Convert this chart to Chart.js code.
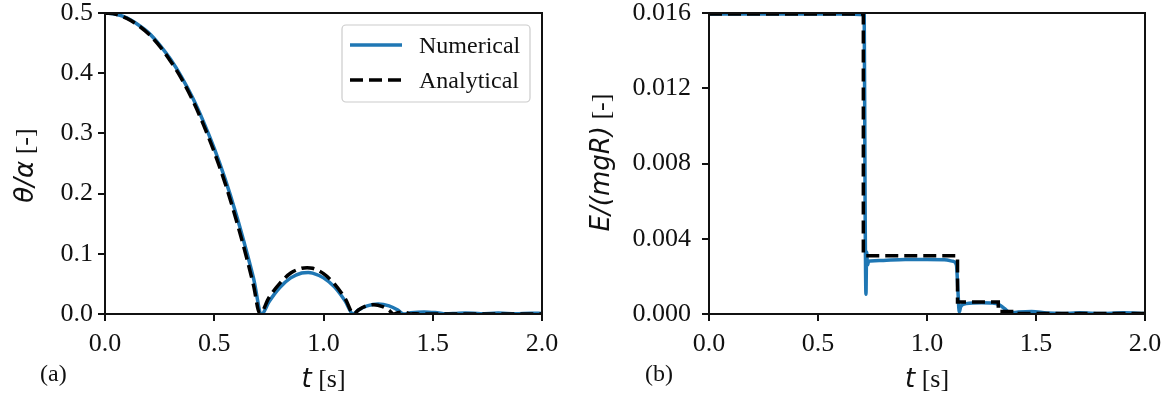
<!DOCTYPE html>
<html><head><meta charset="utf-8">
<script src="https://cdn.jsdelivr.net/npm/chart.js@4.4.0/dist/chart.umd.min.js"></script>
<style>
html,body{margin:0;padding:0;background:#fff;}
#wrap{position:relative;width:1172px;height:403px;overflow:hidden;}
canvas{position:absolute;top:0;}
</style></head><body>
<div id="wrap">
<canvas id="c1" width="586" height="403" style="left:0;width:586px;height:403px"></canvas>
<canvas id="c2" width="586" height="403" style="left:586px;width:586px;height:403px"></canvas>
</div>
<script>
// ---------- data ----------
const seriesLabels = ['Numerical', 'Analytical'];
const xTicks = [0, 0.5, 1.0, 1.5, 2.0];
const thetaTicks = [0, 0.1, 0.2, 0.3, 0.4, 0.5];
const energyTicks = [0, 0.004, 0.008, 0.012, 0.016];

const thetaAnaT = [0,0.05,0.1,0.15,0.2,0.25,0.3,0.35,0.4,0.45,0.5,0.55,0.6,0.65,0.68,0.709,
  0.75,0.8,0.85,0.9,0.925,0.95,1.0,1.05,1.1,1.138,
  1.16,1.19,1.23,1.27,1.3,1.32,
  1.34,1.36,1.38,1.40,1.418,1.435,1.6,1.8,2.0];
const thetaAnaV = [0.5,0.498,0.491,0.48,0.465,0.445,0.42,0.391,0.356,0.315,0.269,0.217,0.157,0.091,0.047,0,
  0.027,0.051,0.068,0.076,0.077,0.076,0.067,0.05,0.025,0,
  0.0066,0.0127,0.0155,0.0124,0.0061,0,
  0.0022,0.003,0.0022,0,0.0006,0,0,0,0];

const thetaNumT = [0,0.05,0.1,0.15,0.2,0.25,0.3,0.35,0.4,0.45,0.5,0.55,0.6,0.65,0.68,0.717,
  0.75,0.8,0.85,0.9,0.93,0.95,1.0,1.05,1.1,1.135,
  1.16,1.2,1.25,1.3,1.34,1.366,
  1.4,1.46,1.52,1.56,1.6,1.65,1.72,1.8,1.88,1.95,2.0];
const thetaNumV = [0.5,0.498,0.492,0.481,0.467,0.447,0.423,0.394,0.36,0.32,0.275,0.224,0.166,0.101,0.059,0,
  0.02,0.044,0.06,0.068,0.069,0.068,0.06,0.045,0.021,0,
  0.0065,0.0135,0.0166,0.0135,0.0065,0,
  0.002,0.0035,0.002,0.0003,0.0008,0.0018,0.0004,0.0016,0.0004,0.0014,0.0008];

const energyAnaT = [0,0.708,0.708,1.14,1.14,1.327,1.327,1.40,1.40,2.0];
const energyAnaV = [0.01595,0.01595,0.0031,0.0031,0.00064,0.00064,0.00013,0.00013,0.00003,0.00003];

const energyNumT = [0,0.3,0.6,0.712,0.716,0.72,0.723,0.727,0.732,0.74,0.8,0.9,1.0,1.08,1.12,1.135,1.142,1.148,1.155,1.18,1.25,1.3,1.33,1.36,1.38,1.42,1.48,1.55,1.62,1.7,1.8,1.9,2.0];
const energyNumV = [0.01595,0.01595,0.01595,0.0159,0.006,0.00105,0.0033,0.0026,0.0028,0.00282,0.00285,0.0029,0.0029,0.00288,0.0028,0.0026,0.0012,0.0001,0.0004,0.00055,0.0006,0.00058,0.0005,0.00025,0.00005,0.0001,0.00013,0.00005,0.00003,0.00006,0.00003,0.00006,0.00002];

// ---------- styling ----------
const BLUE = '#1f77b4';
const INK = '#111111';
const SERIF = '"Liberation Serif", "Times New Roman", serif';
const SANS = '"DejaVu Sans", sans-serif';
const FS = 26;      // tick & axis label size
const FS_LEG = 24;  // legend & panel tag size

function pts(t, v) { return t.map((x, i) => ({ x: x, y: v[i] })); }

function mixedText(ctx, parts, cx, cy, rot) {
  ctx.save();
  ctx.translate(cx, cy);
  if (rot) ctx.rotate(rot);
  let total = 0;
  const widths = parts.map(p => { ctx.font = p.font; const w = ctx.measureText(p.text).width; total += w; return w; });
  let x = -total / 2;
  ctx.textBaseline = 'alphabetic';
  ctx.textAlign = 'left';
  ctx.fillStyle = INK;
  parts.forEach((p, i) => { ctx.font = p.font; ctx.fillText(p.text, x, 9); x += widths[i]; });
  ctx.restore();
}

function decorPlugin(cfg) {
  return {
    id: 'decor',
    afterDraw(chart) {
      const ctx = chart.ctx;
      const a = chart.chartArea;
      ctx.save();
      ctx.strokeStyle = INK;
      ctx.lineWidth = 2;
      ctx.strokeRect(a.left, a.top, a.right - a.left, a.bottom - a.top);
      ctx.restore();
      // y label
      mixedText(ctx, cfg.yParts, cfg.yLabelX, (a.top + a.bottom) / 2 + cfg.yLabelDy, -Math.PI / 2);
      // x label
      mixedText(ctx, [{ text: 't', font: 'italic ' + FS + 'px ' + SANS }, { text: ' [s]', font: FS + 'px ' + SERIF }],
        (a.left + a.right) / 2, 378, 0);
      // panel tag
      ctx.save();
      ctx.font = FS_LEG + 'px ' + SERIF;
      ctx.fillStyle = INK;
      ctx.textBaseline = 'alphabetic';
      ctx.textAlign = 'left';
      ctx.fillText(cfg.tag, cfg.tagX, 381);
      ctx.restore();
      if (cfg.legend) {
        const L = cfg.legend;
        ctx.save();
        ctx.beginPath();
        ctx.roundRect(L.x, L.y, L.w, L.h, 4);
        ctx.fillStyle = 'rgba(255,255,255,0.8)';
        ctx.fill();
        ctx.strokeStyle = '#cccccc';
        ctx.lineWidth = 1.2;
        ctx.stroke();
        const ds = chart.data.datasets;
        const rows = [ds.find(d => d.label === seriesLabels[0]), ds.find(d => d.label === seriesLabels[1])];
        rows.forEach((d, i) => {
          const y = L.rowY[i];
          ctx.beginPath();
          ctx.setLineDash(d.borderDash || []);
          ctx.strokeStyle = d.borderColor;
          ctx.lineWidth = d.borderWidth;
          ctx.moveTo(L.x + 8, y);
          ctx.lineTo(L.x + 60, y);
          ctx.stroke();
          ctx.setLineDash([]);
          ctx.font = FS_LEG + 'px ' + SERIF;
          ctx.fillStyle = INK;
          ctx.textBaseline = 'alphabetic';
          ctx.fillText(d.label, L.x + 77, y + 8);
        });
        ctx.restore();
      }
    }
  };
}

function makeChart(id, o) {
  return new Chart(document.getElementById(id), {
    type: 'line',
    data: {
      datasets: [
        { label: seriesLabels[0], data: pts(o.numT, o.numV), borderColor: BLUE, borderWidth: 3.5,
          pointRadius: 0, fill: false, order: 2, cubicInterpolationMode: 'monotone' },
        { label: seriesLabels[1], data: pts(o.anaT, o.anaV), borderColor: '#000000', borderWidth: 3.5,
          borderDash: [13, 6], pointRadius: 0, fill: false, order: 1,
          cubicInterpolationMode: o.anaSmooth ? 'monotone' : 'default', tension: 0 }
      ]
    },
    options: {
      responsive: false,
      animation: false,
      events: [],
      layout: { padding: { left: 0, top: 13, right: o.padRight, bottom: 0 } },
      plugins: { legend: { display: false }, tooltip: { enabled: false }, title: { display: false } },
      scales: {
        x: {
          type: 'linear', min: 0, max: 2,
          afterBuildTicks: s => { s.ticks = xTicks.map(v => ({ value: v })); },
          afterFit: s => { s.height = 89; s.paddingLeft = 0; s.paddingRight = 0; },
          grid: { drawOnChartArea: false, drawTicks: true, tickLength: 7, tickWidth: 2, tickColor: INK, lineWidth: 2, color: INK },
          border: { display: false },
          ticks: { color: INK, padding: 10, maxRotation: 0, autoSkip: false,
            font: { family: SERIF, size: FS, lineHeight: 1 },
            callback: v => Number(v).toFixed(1) }
        },
        y: {
          type: 'linear', min: 0, max: o.yMax,
          afterBuildTicks: s => { s.ticks = o.yTicks.map(v => ({ value: v })); },
          afterFit: s => { s.width = o.yWidth; s.paddingTop = 0; s.paddingBottom = 0; },
          grid: { drawOnChartArea: false, drawTicks: true, tickLength: 7, tickWidth: 2, tickColor: INK, lineWidth: 2, color: INK },
          border: { display: false },
          ticks: { color: INK, padding: o.yPad, autoSkip: false,
            font: { family: SERIF, size: FS, lineHeight: 1 },
            callback: v => Number(v).toFixed(o.yDec) }
        }
      }
    },
    plugins: [decorPlugin(o.decor)]
  });
}

makeChart('c1', {
  numT: thetaNumT, numV: thetaNumV, anaT: thetaAnaT, anaV: thetaAnaV, anaSmooth: true,
  yMax: 0.5, yTicks: thetaTicks, yDec: 1, yWidth: 105, padRight: 44, yPad: 5,
  decor: {
    yParts: [{ text: 'θ/α', font: 'italic ' + FS + 'px ' + SANS }, { text: ' [-]', font: FS + 'px ' + SERIF }],
    yLabelX: 24, yLabelDy: 2, tag: '(a)', tagX: 40,
    legend: { x: 342, y: 25, w: 188, h: 77, rowY: [45, 80] }
  }
});

makeChart('c2', {
  numT: energyNumT, numV: energyNumV, anaT: energyAnaT, anaV: energyAnaV, anaSmooth: false,
  yMax: 0.016, yTicks: energyTicks, yDec: 3, yWidth: 123, padRight: 27, yPad: 11,
  decor: {
    yParts: [{ text: 'E/(mgR)', font: 'italic ' + FS + 'px ' + SANS }, { text: ' [-]', font: FS + 'px ' + SERIF }],
    yLabelX: 14, yLabelDy: -1, tag: '(b)', tagX: 59
  }
});
</script>
</body></html>
